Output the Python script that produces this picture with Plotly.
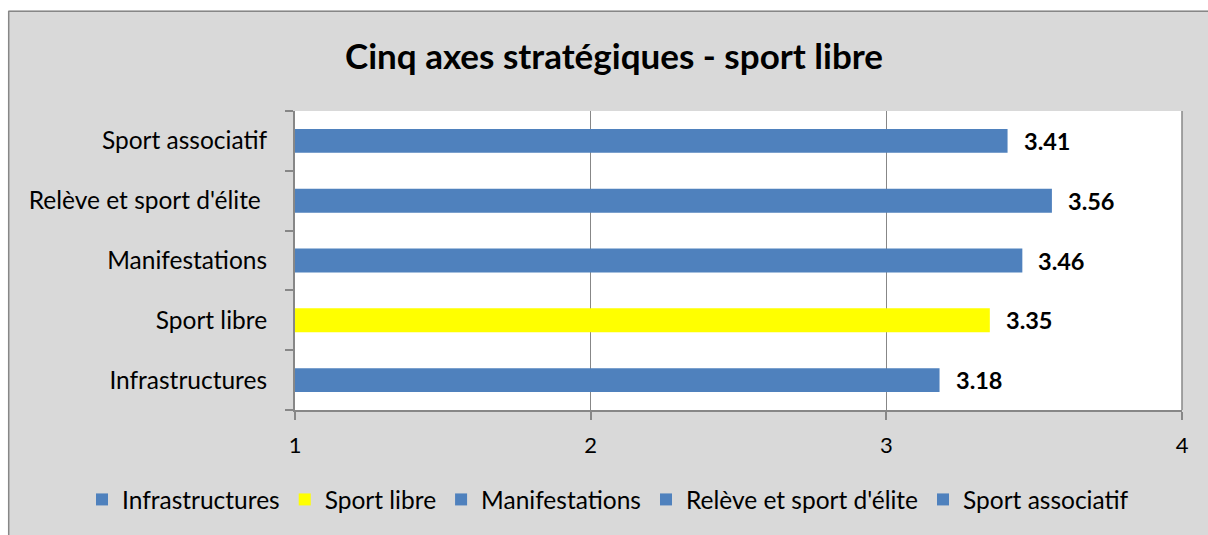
import plotly.graph_objects as go

categories = ["Infrastructures", "Sport libre", "Manifestations", "Relève et sport d'élite ", "Sport associatif"]
legend_names = ["Infrastructures", "Sport libre", "Manifestations", "Relève et sport d'élite", "Sport associatif"]
values = [3.18, 3.35, 3.46, 3.56, 3.41]
colors = ["#4F81BD", "#FFFF00", "#4F81BD", "#4F81BD", "#4F81BD"]
x_ticks = [1, 2, 3, 4]
title_text = "Cinq axes stratégiques - sport libre"

FONT = "Lato"
GRAY = "#878787"

# body margin is removed below, so figure pixels == page pixels
OFF = 0
W, H = 1208, 535
L, R, T, B = 295, 26, 111, 125
pw, ph = W - L - R, H - T - B

def px(xp):  # page x -> paper
    return (xp - OFF - L) / pw

def py(yp):  # page y -> paper
    return (H - B - (yp - OFF)) / ph

fig = go.Figure()
for cat, name, v, c in zip(categories, legend_names, values, colors):
    fig.add_trace(go.Bar(
        y=[cat], x=[v], orientation="h", name=name,
        marker=dict(color=c, line=dict(width=0)),
        width=0.4,
    ))
    fig.add_annotation(
        x=v, y=cat, xref="x", yref="y", text=f"<b>{v:.2f}</b>",
        showarrow=False, xanchor="left", xshift=14,
        font=dict(family=FONT, size=23.5, color="#000000"),
    )

# white strips outside the chart frame (top and left)
fig.add_shape(type="rect", xref="paper", yref="paper",
              x0=px(-5), x1=px(1240), y0=py(10.5), y1=py(-5),
              fillcolor="#FFFFFF", line=dict(width=0), layer="below")
fig.add_shape(type="rect", xref="paper", yref="paper",
              x0=px(-5), x1=px(8), y0=py(-5), y1=py(560),
              fillcolor="#FFFFFF", line=dict(width=0), layer="below")
# frame lines (top and left)
fig.add_shape(type="line", xref="paper", yref="paper",
              x0=px(8.5), x1=px(1240), y0=py(11.2), y1=py(11.2),
              line=dict(color=GRAY, width=1.5))
fig.add_shape(type="line", xref="paper", yref="paper",
              x0=px(8.7), x1=px(8.7), y0=py(11), y1=py(560),
              line=dict(color=GRAY, width=1.5))
# right border of plot area
fig.add_shape(type="line", xref="paper", yref="paper",
              x0=1, x1=1, y0=0, y1=1,
              line=dict(color=GRAY, width=1.5))

fig.update_layout(
    width=W, height=H,
    margin=dict(l=L, r=R, t=T, b=B, autoexpand=False),
    paper_bgcolor="#D9D9D9",
    plot_bgcolor="#FFFFFF",
    barmode="overlay",
    font=dict(family=FONT, size=20, color="#000000"),
    title=dict(text=f"<b>{title_text}</b>", x=(614 - OFF) / W, xanchor="center",
               y=1 - (57 - OFF) / H, yanchor="middle",
               font=dict(family=FONT, size=35, color="#000000")),
    showlegend=True,
    legend=dict(orientation="h", x=px(82), xanchor="left",
                y=py(477), yanchor="top", bgcolor="rgba(0,0,0,0)",
                font=dict(family=FONT, size=24.5), itemwidth=30,
                traceorder="normal"),
    xaxis=dict(range=[1, 4], tickvals=x_ticks, showgrid=True, gridcolor=GRAY,
               gridwidth=1, showline=True, linecolor=GRAY, linewidth=2,
               ticks="outside", ticklen=8, tickcolor=GRAY, tickwidth=2,
               zeroline=False, tickfont=dict(size=22), ticklabelstandoff=7),
    yaxis=dict(type="category", categoryorder="array", categoryarray=categories,
               showline=True, linecolor=GRAY, linewidth=2,
               ticks="outside", tickson="boundaries", ticklen=8, tickcolor=GRAY,
               tickwidth=2, showgrid=False, tickfont=dict(size=24.5),
               ticklabelstandoff=21),
)

fig.write_html(
    "out.html",
    config={"displayModeBar": False},
    post_script="document.body.style.margin='0';"
                "document.documentElement.style.overflow='hidden';",
)
